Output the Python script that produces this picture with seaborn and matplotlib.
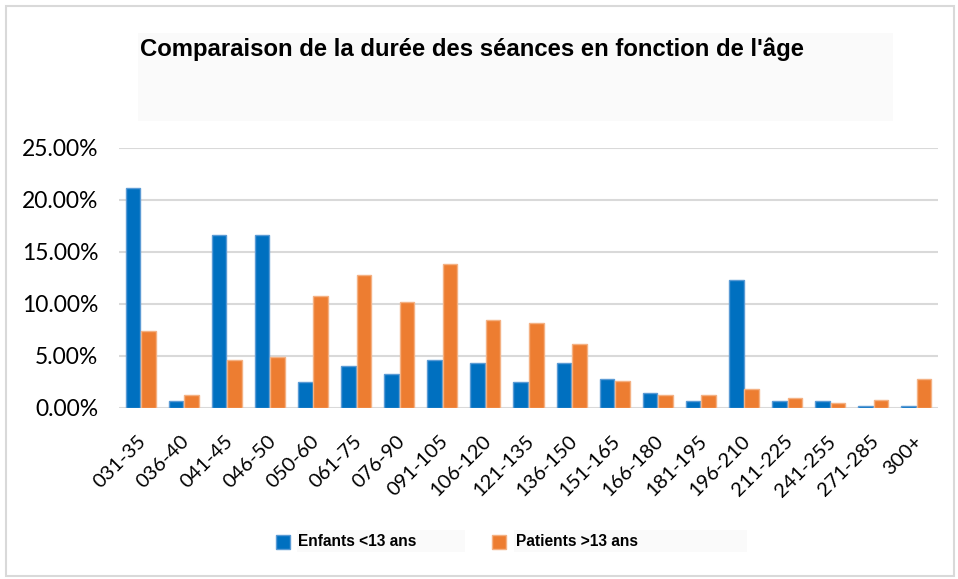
import matplotlib
matplotlib.use("Agg")
import matplotlib.pyplot as plt
import seaborn as sns
import pandas as pd
from matplotlib.patches import Rectangle
from matplotlib.ticker import PercentFormatter, FixedLocator
from matplotlib.transforms import ScaledTranslation

categories = ["031-35", "036-40", "041-45", "046-50", "050-60", "061-75", "076-90",
              "091-105", "106-120", "121-135", "136-150", "151-165", "166-180",
              "181-195", "196-210", "211-225", "241-255", "271-285", "300+"]
enfants = [0.212, 0.0072, 0.166, 0.166, 0.025, 0.0406, 0.0329, 0.0457, 0.0435,
           0.025, 0.0435, 0.028, 0.0149, 0.0072, 0.1226, 0.0072, 0.0072, 0.0024, 0.0024]
patients = [0.074, 0.0123, 0.046, 0.0486, 0.1075, 0.128, 0.1024, 0.138, 0.0844,
            0.0819, 0.0613, 0.0255, 0.0127, 0.0123, 0.0178, 0.010, 0.005, 0.0075, 0.028]
series_names = ["Enfants <13 ans", "Patients >13 ans"]
yticks = [0.0, 0.05, 0.10, 0.15, 0.20, 0.25]
title = "Comparaison de la durée des séances en fonction de l'âge"

blue, orange = "#0070C0", "#ED7D31"
blue_edge, orange_edge = "#5B9BD5", "#F4B183"

df = pd.DataFrame({
    "cat": categories * 2,
    "val": enfants + patients,
    "series": [series_names[0]] * len(categories) + [series_names[1]] * len(categories),
})

sns.set_theme(style="white")
W, H = 958, 579
fig = plt.figure(figsize=(W / 100, H / 100), dpi=100)
fig.patch.set_facecolor("white")

# axes placement (pixels)
left, right, top, bottom = 119, 938, 148, 408
ax = fig.add_axes([left / W, 1 - bottom / H, (right - left) / W, (bottom - top) / H])

sns.barplot(data=df, x="cat", y="val", hue="series", palette=[blue, orange],
            width=0.72, gap=0.06, ax=ax, legend=False, saturation=1, zorder=3)

for p in ax.patches:
    fc = p.get_facecolor()
    if fc[2] > 0.5:
        p.set_edgecolor(blue_edge)
    else:
        p.set_edgecolor(orange_edge)
    p.set_linewidth(1.0)

ax.set_xlim(-0.5, len(categories) - 0.5)
ax.set_ylim(0, 0.25)
ax.yaxis.set_major_locator(FixedLocator(yticks))
ax.yaxis.set_major_formatter(PercentFormatter(1.0, decimals=2))
ax.grid(axis="y", color="#D9D9D9", linewidth=1.5, zorder=0)
ax.set_axisbelow(True)
for s in ax.spines.values():
    s.set_visible(False)
ax.set_xlabel("")
ax.set_ylabel("")
ax.tick_params(axis="both", length=0)
ax.tick_params(axis="y", pad=15, labelsize=16.5, labelcolor="#000000")
ax.tick_params(axis="x", pad=22, labelsize=14.5, labelcolor="#000000")
for lab in ax.get_yticklabels():
    lab.set_fontfamily("Lato")
offset = ScaledTranslation(3 / 100, 0, fig.dpi_scale_trans)
for lab in ax.get_xticklabels():
    lab.set_fontfamily("Lato")
    lab.set_rotation(45)
    lab.set_ha("right")
    lab.set_va("center")
    lab.set_rotation_mode("anchor")
    lab.set_transform(lab.get_transform() + offset)

def px_rect(x0, y0, x1, y1, **kw):
    r = Rectangle((x0 / W, 1 - y1 / H), (x1 - x0) / W, (y1 - y0) / H,
                  transform=fig.transFigure, **kw)
    fig.patches.append(r)
    return r

# outer border
px_rect(6, 6, 954, 576, facecolor="none", edgecolor="#D9D9D9", linewidth=1.5)
# title box
px_rect(138, 33, 893, 121, facecolor="#FAFAFA", edgecolor="none", zorder=0)
fig.text(140 / W, 1 - 49 / H, title, fontsize=17.2, fontweight="bold",
         family="Liberation Sans", ha="left", va="center", color="#000000")

# legend
px_rect(297, 530, 465, 552, facecolor="#FAFAFA", edgecolor="none")
px_rect(514, 530, 747, 552, facecolor="#FAFAFA", edgecolor="none")
px_rect(276, 535, 290, 549, facecolor=blue, edgecolor=blue_edge, linewidth=1)
px_rect(492, 535, 506, 549, facecolor=orange, edgecolor=orange_edge, linewidth=1)
fig.text(298 / W, 1 - 542 / H, series_names[0], fontsize=11.2, fontweight="bold",
         family="Liberation Sans", ha="left", va="center", color="#000000")
fig.text(516 / W, 1 - 542 / H, series_names[1], fontsize=11.2, fontweight="bold",
         family="Liberation Sans", ha="left", va="center", color="#000000")

fig.savefig("out.png", dpi=100)
